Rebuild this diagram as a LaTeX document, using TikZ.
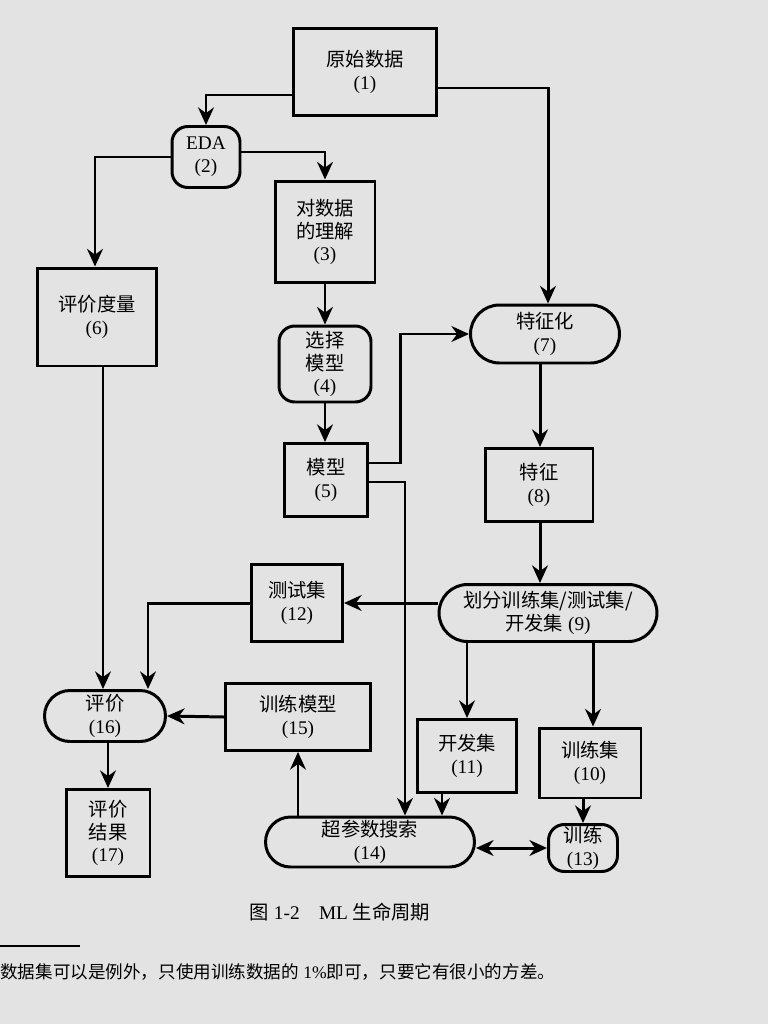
\documentclass[tikz,border=0pt]{standalone}
\usepackage{fontspec}
\setmainfont{Liberation Serif}
\newfontfamily\cjk{Noto Sans CJK SC}
\usetikzlibrary{shapes.misc, arrows.meta, positioning, calc}

\begin{document}
\begin{tikzpicture}[
	x=0.02cm, y=-0.02cm,
	every node/.style={font=\fontsize{11}{13}\selectfont, align=center, inner sep=0pt},
	box/.style={rectangle, draw=black, line width=1.7pt},
	barrel/.style={rectangle, rounded corners=9pt, draw=black, line width=1.7pt},
	pill/.style={rounded rectangle, draw=black, line width=1.7pt},
	arrow/.style={-{Stealth[length=10pt,width=9pt]}, line width=1.7pt},
	dblarrow/.style={{Stealth[length=10pt,width=9pt]}-{Stealth[length=10pt,width=9pt]}, line width=1.7pt}
]

% paper
\fill[black!11] (0,0) rectangle (768,1024);
\useasboundingbox (0,0) rectangle (768,1024);

% Upper part
\node[box, minimum width=2.88cm, minimum height=1.74cm] (raw) at (365,72) {{\cjk 原始数据}\\(1)};
\node[barrel, minimum width=1.36cm, minimum height=1.22cm] (eda) at (206,157) {EDA\\(2)};
\node[box, minimum width=2.0cm, minimum height=2.04cm] (understand) at (325,232) {{\cjk 对数据}\\{\cjk 的理解}\\(3)};
\node[barrel, minimum width=1.84cm, minimum height=1.52cm] (choose) at (325,364) {{\cjk 选择}\\{\cjk 模型}\\(4)};
\node[box, minimum width=1.66cm, minimum height=1.46cm] (model) at (326,480) {{\cjk 模型}\\(5)};
\node[box, minimum width=2.4cm, minimum height=1.96cm] (metric) at (97,317) {{\cjk 评价度量}\\(6)};
\node[pill, minimum width=2.98cm, minimum height=1.16cm] (featurize) at (545,334) {{\cjk 特征化}\\(7)};
\node[box, minimum width=2.16cm, minimum height=1.46cm] (features) at (539,485) {{\cjk 特征}\\(8)};

% Lower part
\node[pill, minimum width=4.36cm, minimum height=1.14cm] (split) at (548,613) {{\cjk 划分训练集/测试集/}\\{\cjk 开发集} (9)};
\node[box, minimum width=2.04cm, minimum height=1.4cm] (trainset) at (590,763) {{\cjk 训练集}\\(10)};
\node[box, minimum width=1.98cm, minimum height=1.46cm] (devset) at (467,756) {{\cjk 开发集}\\(11)};
\node[box, minimum width=1.82cm, minimum height=1.54cm] (testset) at (297,603) {{\cjk 测试集}\\(12)};
\node[barrel, minimum width=1.38cm, minimum height=0.94cm] (train) at (583,848) {{\cjk 训练}\\(13)};
\node[pill, minimum width=4.18cm, minimum height=1.0cm] (search) at (370,842) {{\cjk 超参数搜索}\\(14)};
\node[box, minimum width=2.9cm, minimum height=1.34cm] (trainmodel) at (298,717) {{\cjk 训练模型}\\(15)};
\node[pill, minimum width=2.42cm, minimum height=1.02cm] (evaluate) at (105,716) {{\cjk 评价}\\(16)};
\node[box, minimum width=1.68cm, minimum height=1.74cm] (result) at (108,833) {{\cjk 评价}\\{\cjk 结果}\\(17)};

% Caption and footnote
\node (caption) at (340,912) {{\cjk 图} 1-2\quad ML {\cjk 生命周期}};
\node[anchor=west, font=\fontsize{10}{12}\selectfont] (note) at (0,972) {{\cjk 数据集可以是例外，只使用训练数据的} 1\%{\cjk 即可，只要它有很小的方差。}};
\draw[line width=0.6pt] (0,946) -- (80,946);

% Arrows
\draw[arrow] ($(raw.west)+(0,23)$) -| (eda.north);
\draw[arrow] ($(raw.east)+(0,16)$) -| ($(featurize.north)+(3,0)$);
\draw[arrow] (eda.west) -| ($(metric.north)+(-2,0)$);
\draw[arrow] ($(eda.east)+(0,-5)$) -| (understand.north);
\draw[arrow] (understand.south) -- (choose.north);
\draw[arrow] (choose.south) -- (choose.south |- model.north);
\draw[arrow] ($(model.east)+(0,-17)$) -- ++(32,0) |- (featurize.west);
\draw[arrow] ($(model.east)+(0,2)$) -| ($(search.north)+(35,0)$);
\draw[arrow] ($(metric.south)+(6,0)$) -- ($(evaluate.north)+(-2,0)$);
\draw[arrow] ($(featurize.south)+(-5,0)$) -- ($(features.north)+(1,0)$);
\draw[arrow] ($(features.south)+(1,0)$) -- ($(split.north)+(-8,0)$);
\draw[arrow] (split.west |- testset.east) -- (testset.east);
\draw[arrow] (testset.west) -| ($(evaluate.north)+(43,0)$);
\draw[arrow] (devset.north |- split.south) -- (devset.north);
\draw[arrow] ($(split.south)+(45,0)$) -- ($(trainset.north)+(3,0)$);
\draw[arrow] ($(devset.south)+(-25,0)$) -- ($(search.north)+(72,0)$);
\draw[arrow] (train.north |- trainset.south) -- (train.north);
\draw[dblarrow] (search.east |- train.west) -- (train.west);
\draw[arrow] (trainmodel.south |- search.north) -- (trainmodel.south);
\draw[arrow] (trainmodel.west) -- (evaluate.east);
\draw[arrow] (result.north |- evaluate.south) -- (result.north);

\end{tikzpicture}
\end{document}
